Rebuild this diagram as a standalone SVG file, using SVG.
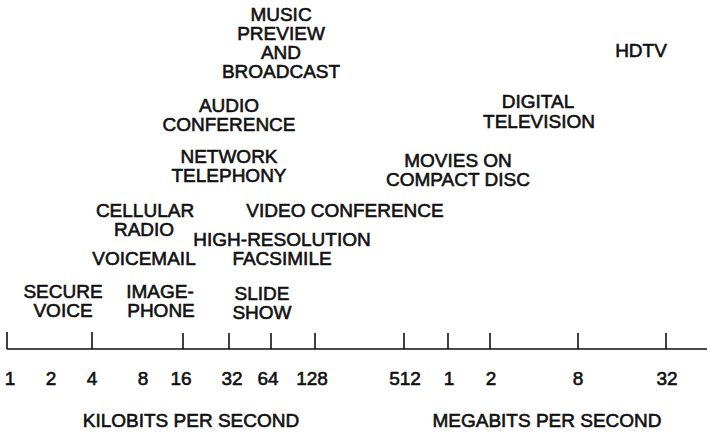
<svg xmlns="http://www.w3.org/2000/svg" width="708" height="435" viewBox="0 0 708 435">
<style>
text{font-family:"Liberation Sans",Arial,sans-serif;font-size:19px;fill:#111;text-anchor:middle;stroke:#111;stroke-width:0.6}
.axis{stroke:#111;stroke-width:1.6;fill:none}
</style>
<rect width="708" height="435" fill="#fff"/>
<g id="axis">
<path class="axis" d="M7,349H707M7,332V349M92,332V349M183,333V349M229,333V349M271,333V349M315,333V349M404,333V349M448,333V349M490,333V349M578,333V349M666,333V349"/>
</g>
<g id="tick-labels">
<text x="10" y="385">1</text>
<text x="51" y="385">2</text>
<text x="92" y="385">4</text>
<text x="143" y="385">8</text>
<text x="181" y="385">16</text>
<text x="232" y="385">32</text>
<text x="268" y="385">64</text>
<text x="312" y="385">128</text>
<text x="405" y="385">512</text>
<text x="449" y="385">1</text>
<text x="491" y="385">2</text>
<text x="578" y="385">8</text>
<text x="667" y="385">32</text>
</g>
<g id="units">
<text x="191" y="427">KILOBITS PER SECOND</text>
<text x="547" y="427">MEGABITS PER SECOND</text>
</g>
<g id="secure-voice"><text x="63" y="298">SECURE</text><text x="63" y="317">VOICE</text></g>
<g id="image-phone"><text x="160" y="298">IMAGE-</text><text x="161" y="317">PHONE</text></g>
<g id="slide-show"><text x="262" y="300">SLIDE</text><text x="262" y="319">SHOW</text></g>
<g id="voicemail"><text x="144" y="265">VOICEMAIL</text></g>
<g id="hires-fax"><text x="282" y="246">HIGH-RESOLUTION</text><text x="282" y="265">FACSIMILE</text></g>
<g id="cellular-radio"><text x="145" y="217">CELLULAR</text><text x="144" y="236">RADIO</text></g>
<g id="video-conference"><text x="345" y="217">VIDEO CONFERENCE</text></g>
<g id="network-telephony"><text x="229" y="163">NETWORK</text><text x="229" y="182">TELEPHONY</text></g>
<g id="audio-conference"><text x="229" y="112">AUDIO</text><text x="229" y="131">CONFERENCE</text></g>
<g id="music"><text x="281" y="21">MUSIC</text><text x="281" y="40">PREVIEW</text><text x="281" y="59">AND</text><text x="281" y="78">BROADCAST</text></g>
<g id="movies-cd"><text x="458" y="167">MOVIES ON</text><text x="458" y="186">COMPACT DISC</text></g>
<g id="digital-tv"><text x="538" y="108">DIGITAL</text><text x="539" y="128">TELEVISION</text></g>
<g id="hdtv"><text x="641" y="57">HDTV</text></g>
</svg>
